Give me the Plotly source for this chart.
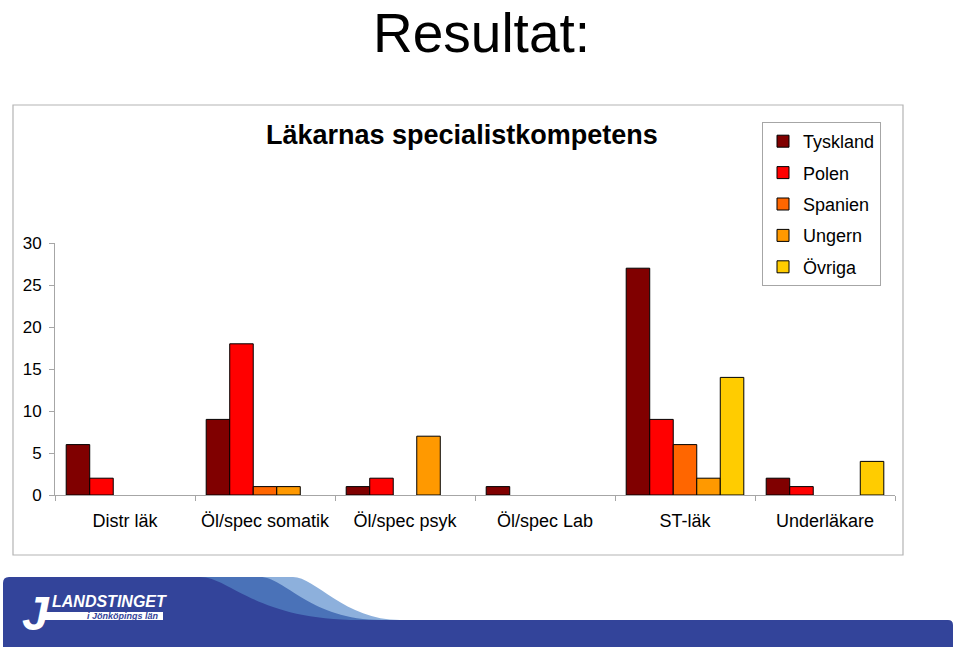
import plotly.graph_objects as go

# ---------------- data ----------------
categories = ["Distr läk", "Öl/spec somatik", "Öl/spec psyk", "Öl/spec Lab", "ST-läk", "Underläkare"]
series_names = ["Tyskland", "Polen", "Spanien", "Ungern", "Övriga"]
tyskland = [6, 9, 1, 1, 27, 2]
polen = [2, 18, 2, None, 9, 1]
spanien = [None, 1, None, None, 6, None]
ungern = [None, 1, 7, None, 2, None]
ovriga = [None, None, None, None, 14, 4]
y_ticks = [0, 5, 10, 15, 20, 25, 30]

series_values = [tyskland, polen, spanien, ungern, ovriga]
colors = ["#800000", "#FF0000", "#FF6600", "#FF9900", "#FFCC00"]

# ---------------- layout geometry ----------------
W, H = 960, 650
ML, MR, MT, MB = 55, 65, 243, 155
PW, PH = W - ML - MR, H - MT - MB


def px(x):
    return (x - ML) / PW


def py(y):
    return (H - MB - y) / PH


def path(cmds):
    out = []
    for c in cmds:
        if isinstance(c, str):
            out.append(c)
        else:
            out.append(f"{px(c[0]):.5f},{py(c[1]):.5f}")
    return " ".join(out)


FONT = "Liberation Sans, Arial, sans-serif"
GRAY = "#A6A6A6"

fig = go.Figure()
for name, vals, col in zip(series_names, series_values, colors):
    fig.add_trace(go.Bar(
        name=name, x=categories, y=vals,
        marker=dict(color=col, line=dict(color="black", width=1)),
        legendgroup=name,
    ))

shapes = []
# chart frame
shapes.append(dict(type="rect", xref="paper", yref="paper",
                   x0=px(13), x1=px(903), y0=py(555), y1=py(105),
                   line=dict(color="#B4B4B4", width=1.2), fillcolor="rgba(0,0,0,0)", layer="below"))

# footer banner
light = path(["M", (100, 577), "L", (293, 577), "C", (315, 577), (345, 620), (400, 620),
              "L", (940, 620), "L", (940, 647), "L", (100, 647), "Z"])
medium = path(["M", (100, 577), "L", (260, 577), "C", (285, 577), (310, 620), (382, 620),
               "L", (940, 620), "L", (940, 647), "L", (100, 647), "Z"])
dark = path(["M", (3, 647), "L", (3, 583), "Q", (3, 577), (9, 577), "L", (200, 577),
             "C", (230, 577), (255, 620), (360, 620), "L", (948, 620), "Q", (953, 620), (953, 625),
             "L", (953, 647), "Z"])
shapes.append(dict(type="path", xref="paper", yref="paper", path=light,
                   fillcolor="#8DB0DC", line=dict(width=0)))
shapes.append(dict(type="path", xref="paper", yref="paper", path=medium,
                   fillcolor="#4A72B8", line=dict(width=0)))
shapes.append(dict(type="path", xref="paper", yref="paper", path=dark,
                   fillcolor="#33449A", line=dict(width=0)))
# white bar of logo
shapes.append(dict(type="rect", xref="paper", yref="paper",
                   x0=px(44), x1=px(163), y0=py(620), y1=py(612),
                   fillcolor="white", line=dict(width=0)))

annotations = [
    dict(text="Resultat:", xref="paper", yref="paper", x=px(481), y=py(0),
         xanchor="center", yanchor="top", showarrow=False,
         font=dict(family=FONT, size=55, color="black")),
    dict(text="<b>Läkarnas specialistkompetens</b>", xref="paper", yref="paper",
         x=px(462), y=py(135), xanchor="center", yanchor="middle", showarrow=False,
         font=dict(family=FONT, size=27, color="black")),
    dict(text="<b><i>J</i></b>", xref="paper", yref="paper", x=px(36), y=py(613),
         xanchor="center", yanchor="middle", showarrow=False,
         font=dict(family=FONT, size=48, color="white")),
    dict(text="<b><i>LANDSTINGET</i></b>", xref="paper", yref="paper", x=px(50), y=py(601),
         xanchor="left", yanchor="middle", showarrow=False,
         font=dict(family="Liberation Sans Narrow, Arial Narrow, sans-serif", size=16, color="white")),
    dict(text="<b><i>i Jönköpings län</i></b>", xref="paper", yref="paper", x=px(161), y=py(616),
         xanchor="right", yanchor="middle", showarrow=False,
         font=dict(family=FONT, size=9, color="#33449A")),
]

fig.update_layout(
    width=W, height=H,
    margin=dict(l=ML, r=MR, t=MT, b=MB, autoexpand=False),
    paper_bgcolor="white", plot_bgcolor="white",
    barmode="group", bargap=0.16, bargroupgap=0,
    font=dict(family=FONT, color="black"),
    showlegend=True,
    legend=dict(x=px(881), y=py(122), xanchor="right", yanchor="top",
                bordercolor=GRAY, borderwidth=1, bgcolor="white",
                font=dict(family=FONT, size=18, color="black"),
                tracegroupgap=5, traceorder="grouped", itemwidth=30),
    shapes=shapes,
    annotations=annotations,
)
fig.update_xaxes(
    type="category", showline=True, linecolor=GRAY, linewidth=1,
    ticks="outside", tickson="boundaries", ticklen=5, tickcolor=GRAY,
    showgrid=False, zeroline=False, ticklabelstandoff=9,
    tickfont=dict(family=FONT, size=18, color="black"),
)
fig.update_yaxes(
    range=[0, 30], tickvals=y_ticks, ticktext=[str(v) for v in y_ticks],
    showline=True, linecolor=GRAY, linewidth=1,
    ticks="outside", ticklen=5, tickcolor=GRAY,
    showgrid=False, zeroline=False, ticklabelstandoff=4,
    tickfont=dict(family=FONT, size=17, color="black"),
)

fig.write_html("out.html")
